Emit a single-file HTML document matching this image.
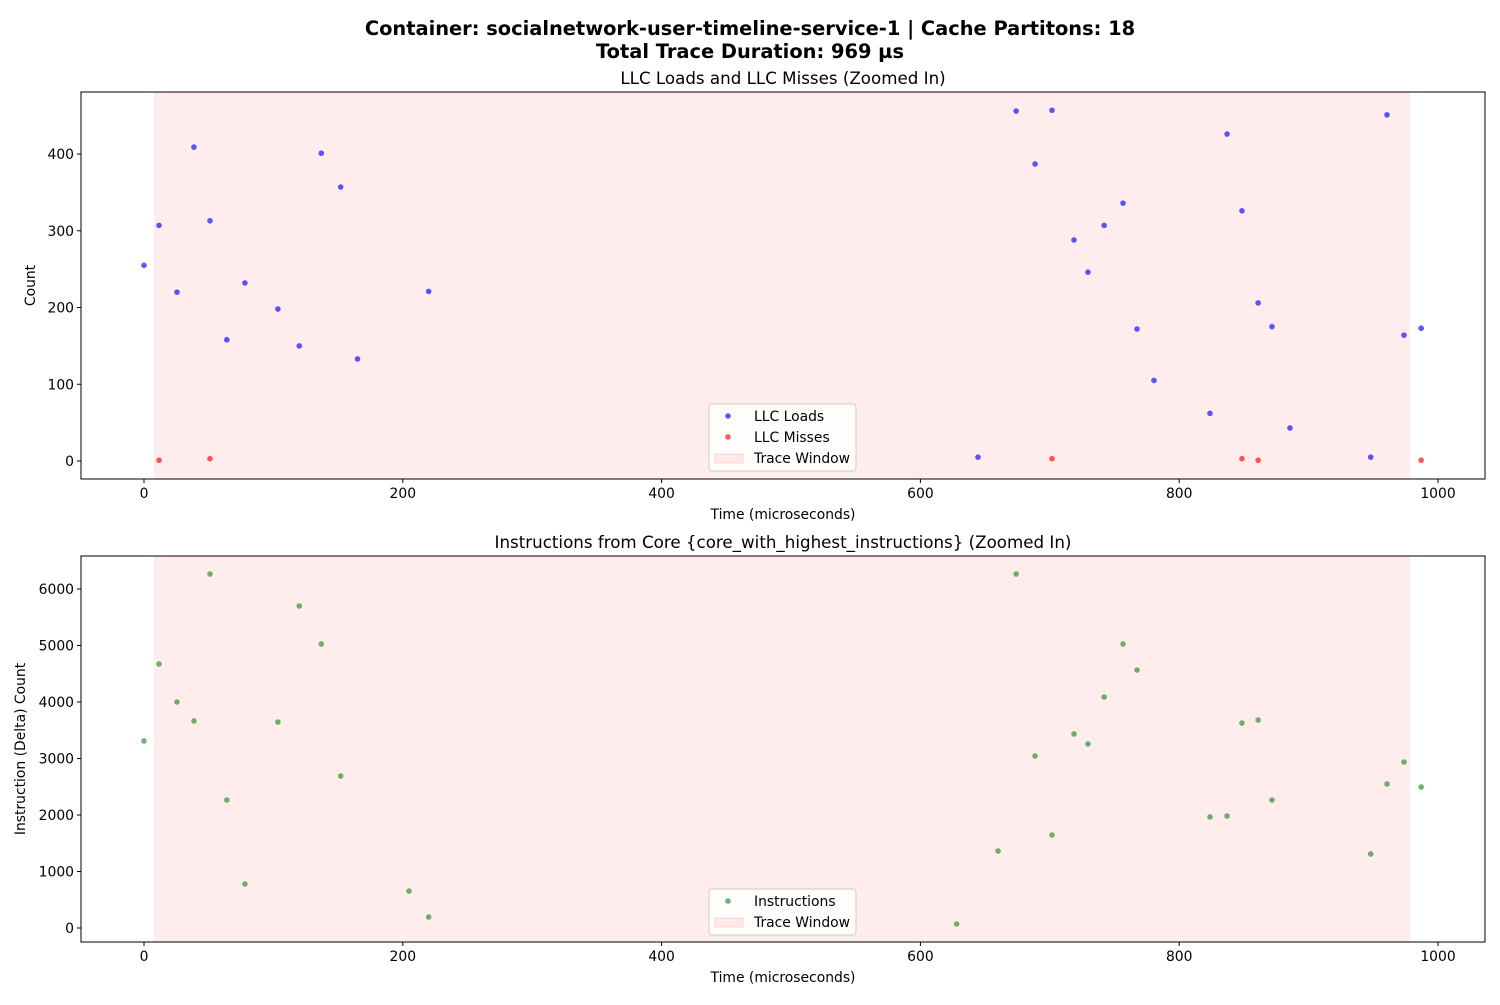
<!DOCTYPE html>
<html><head><meta charset="utf-8"><style>
body{margin:0;background:#fff;font-family:"Liberation Sans","DejaVu Sans",sans-serif;}
svg text{font-family:"DejaVu Sans","Liberation Sans",sans-serif;}
</style></head><body>
<svg id="c" width="1500" height="1000" xmlns="http://www.w3.org/2000/svg">
<text x="750" y="35" text-anchor="middle" font-size="19.4" font-weight="bold">Container: socialnetwork-user-timeline-service-1 | Cache Partitons: 18</text>
<text x="750" y="58" text-anchor="middle" font-size="19.4" font-weight="bold">Total Trace Duration: 969 µs</text>
</svg>
<script>
const loadT=[0,11.6,25.5,38.6,51,64,78,103.5,120,137,152,165,220,644.5,674,688.6,701.7,718.7,729.5,742,756.6,767.4,780.5,823.8,837,848.5,861,871.7,885.6,948,960.6,973.7,987];
const loadV=[255,307,220,409,313,158,232,198,150,401,357,133,221,5,456,387,457,288,246,307,336,172,105,62,426,326,206,175,43,5,451,164,173];
const missT=[11.6,51,701.7,848.5,861,987];
const missV=[1,3,3,3,1,1];
const instT=[0,11.6,25.5,38.6,51,64,78,103.5,120,137,152,204.8,220,628,660,674,688.6,701.7,718.7,729.5,742,756.6,767.4,823.8,837,848.5,861,871.7,948,960.6,973.7,987];
const instV=[3310,4673,4000,3664,6265,2265,779,3646,5699,5027,2690,655,195,71,1363,6265,3044,1646,3434,3257,4088,5027,4566,1965,1982,3628,3681,2265,1310,2549,2938,2496];
const xTicks=[0,200,400,600,800,1000];
const yTicksTop=[0,100,200,300,400];
const yTicksBot=[0,1000,2000,3000,4000,5000,6000];
const windowRange=[7.7,978.4];
const NS="http://www.w3.org/2000/svg",svg=document.getElementById('c');
function el(t,a,p){const e=document.createElementNS(NS,t);for(const k in a)e.setAttribute(k,a[k]);(p||svg).appendChild(e);return e;}
const X=t=>144+t*1.294;
function panel(box,Y,yTicks,title,ylabel,series,legendItems,legY,name){
  const g=el('g',{});
  
  
  const [x0,y0,x1,y1]=box;
  const w=el('rect',{x:X(windowRange[0]),y:y0,width:X(windowRange[1])-X(windowRange[0]),height:y1-y0,fill:'rgba(255,0,0,0.07)'},g);
  
  
  series.forEach(s=>{s.t.forEach((t,i)=>{const c=el('circle',{cx:X(t),cy:Y(s.v[i]),r:2.8,fill:s.c,'fill-opacity':0.65},g);
    
    });});
  el('rect',{x:x0,y:y0,width:x1-x0,height:y1-y0,fill:'none',stroke:'#000','stroke-width':1},g);
  xTicks.forEach(v=>{el('line',{x1:X(v),x2:X(v),y1:y1,y2:y1+4,stroke:'#000'},g);
    const t=el('text',{x:X(v),y:y1+19,'text-anchor':'middle','font-size':13.9},g);t.textContent=v;
    
    });
  yTicks.forEach(v=>{el('line',{x1:x0-4,x2:x0,y1:Y(v),y2:Y(v),stroke:'#000'},g);
    const t=el('text',{x:x0-7,y:Y(v)+5,'text-anchor':'end','font-size':13.9},g);t.textContent=v;
    
    });
  let t=el('text',{x:(x0+x1)/2,y:y0-8,'text-anchor':'middle','font-size':16.7},g);t.textContent=title;
  
  
  t=el('text',{x:(x0+x1)/2,y:y1+40,'text-anchor':'middle','font-size':13.9},g);t.textContent='Time (microseconds)';
  
  
  const cy=(y0+y1)/2;
  t=el('text',{x:0,y:0,'text-anchor':'middle','font-size':13.9,transform:`translate(${box[4]},${cy}) rotate(-90)`},g);t.textContent=ylabel;
  
  
  const lg=el('g',{},g);
  
  
  el('rect',{x:709,y:legY,width:147,height:legendItems.length*21+4,rx:3,fill:'rgba(255,255,255,0.8)',stroke:'#ccc'},lg);
  legendItems.forEach((it,i)=>{const yy=legY+12+i*21;
    if(it.c)el('circle',{cx:728,cy:yy,r:2.8,fill:it.c,'fill-opacity':0.65},lg);
    else el('rect',{x:715,y:yy-4,width:28,height:9,fill:'rgba(255,0,0,0.07)',stroke:'rgba(255,0,0,0.12)'},lg);
    const tt=el('text',{x:754,y:yy+5,'font-size':13.9},lg);tt.textContent=it.n;
    
    });
}
panel([81,92,1485,479,35],v=>461-v*0.7675,yTicksTop,'LLC Loads and LLC Misses (Zoomed In)','Count',
  [{t:loadT,v:loadV,c:'#0000ff',n:'llc-load'},{t:missT,v:missV,c:'#ff0000',n:'llc-miss'}],
  [{n:'LLC Loads',c:'#0000ff'},{n:'LLC Misses',c:'#ff0000'},{n:'Trace Window'}],404,'llc-panel');
panel([81,556,1485,942,25],v=>928-v*0.0565,yTicksBot,'Instructions from Core {core_with_highest_instructions} (Zoomed In)','Instruction (Delta) Count',
  [{t:instT,v:instV,c:'#228b22',n:'instruction'}],
  [{n:'Instructions',c:'#228b22'},{n:'Trace Window'}],889,'instructions-panel');
</script>
</body></html>
